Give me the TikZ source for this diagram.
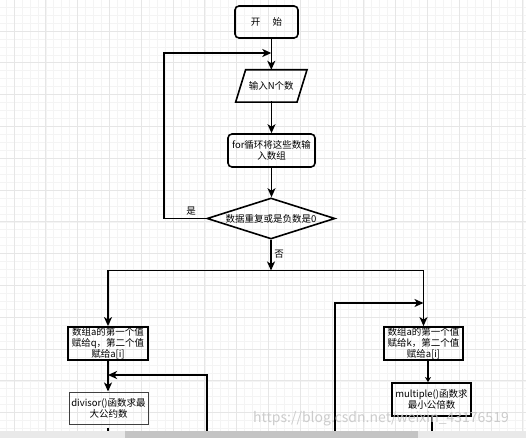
\documentclass[tikz,border=0pt]{standalone}
\usepackage{fontspec}
\setmainfont{Noto Sans CJK SC}
\usetikzlibrary{arrows.meta,shapes.geometric,calc}
\definecolor{gridminor}{HTML}{F4F4F4}
\definecolor{gridmajor}{HTML}{E6E6E6}
\definecolor{barlight}{HTML}{E9E9E9}
\definecolor{bardark}{HTML}{C4C4C4}
\tikzset{
  conn/.style={line width=1.6pt,black},
  arr/.style={conn,-{Stealth[length=9pt,width=8pt,inset=2.5pt]}},
  txt/.style={font=\fontsize{9.5}{11}\selectfont,align=center,inner sep=0pt},
  roundbox/.style={txt,draw,line width=1.6pt,rounded corners=4pt},
  sqbox/.style={txt,draw,line width=1.8pt},
  thinbox/.style={txt,draw=black!75,line width=1pt},
  lbl/.style={font=\fontsize{9.5}{11}\selectfont,inner sep=1pt},
}
\begin{document}
\begin{tikzpicture}[x=1pt,y=-1pt]
\useasboundingbox (0,0) rectangle (526,438);
% grid background
\fill[white] (0,0) rectangle (526,438);
\foreach \i in {0,...,68} { \draw[gridminor,line width=0.6pt] ({14+(\i-2)*7.95},0) -- ({14+(\i-2)*7.95},438); }
\foreach \j in {0,...,56} { \draw[gridminor,line width=0.6pt] (0,{31+(\j-4)*7.95}) -- (526,{31+(\j-4)*7.95}); }
\foreach \i in {0,...,16} { \draw[gridmajor,line width=0.8pt] ({14+\i*31.8},0) -- ({14+\i*31.8},438); }
\foreach \j in {-1,...,13} { \draw[gridmajor,line width=0.8pt] (0,{31+\j*31.8}) -- (526,{31+\j*31.8}); }

% nodes
\node[roundbox,minimum width=63,minimum height=32] (start) at (266.5,22) {开\hspace{1.3em}始};
\node[txt,minimum width=61,minimum height=32] (in) at (271.3,86) {输入N个数};
\draw[line width=1.6pt] ($(in.north west)+(5,0)$) -- ($(in.north east)+(5,0)$) -- ($(in.south east)+(-5,0)$) -- ($(in.south west)+(-5,0)$) -- cycle;
\node[roundbox,minimum width=87,minimum height=33] (for) at (271.5,150.5) {for循环将这些数输\\入数组};
\node[txt,draw,line width=1.6pt,shape=diamond,aspect=3.12,minimum width=128,minimum height=41,inner sep=0pt] (dia) at (271,218.5) {数据重复或是负数是0};
\coordinate (jn) at (271,270.5);
\node[sqbox,minimum width=80,minimum height=33] (b1) at (108,343.5) {数组a的第一个值\\赋给q，第二个值\\赋给a[i]};
\node[thinbox,minimum width=79,minimum height=32] (b2) at (108.5,408) {divisor()函数求最\\大公约数};
\node[sqbox,minimum width=79,minimum height=33] (b3) at (423.5,343.5) {数组a的第一个值\\赋给k，第二个值\\赋给a[i]};
\node[sqbox,minimum width=79,minimum height=33] (b4) at (431.5,399.5) {multiple()函数求\\最小公倍数};

% free-end coordinates
\coordinate (loopA) at (164,53);
\coordinate (loopL) at (207,431);
\coordinate (loopLt) at (207,375);
\coordinate (loopR) at (335,431);
\coordinate (loopRt) at (335,303);
\coordinate (b2end) at (108,431);
\coordinate (b4end) at (432,431);

% connectors
\draw[arr] (start.south -| in.north) -- (in.north);
\draw[arr] (dia.west) -- (dia.west -| loopA) -- (loopA) -- (loopA -| in.north);
\node[lbl] at (191,211) {是};
\draw[arr] (in.south) -- (for.south |- in.south) -- (for.north);
\draw[arr] (for.south) -- (for.south |- dia.north);
\draw[arr] (dia.south) -- (jn);
\node[lbl] at (279,254) {否};
\draw[arr] (jn) -- (jn -| b1.north) -- (b1.north);
\draw[arr] (jn) -- (jn -| b3.north) -- (b3.north);
\draw[arr] (b1.south) -- (b2.north -| b1.south);
\draw[arr] (loopL) -- (loopLt) -- (loopLt -| b1.south);
\draw[arr] (loopR) -- (loopRt) -- (loopRt -| b3.north);
\draw[conn,-{Stealth[length=5pt,width=6pt,inset=1.5pt]}] ($(b3.south)+(4.5,0)$) coordinate (t3) -- (t3 |- b4.north);
\draw[conn] ($(b2.south)+(-0.5,3)$) -- (b2end);
\draw[conn] (b4.south -| b4end) -- (b4end);

% watermark
\node[font=\fontsize{14}{14}\selectfont,text=black!22,opacity=0.9,inner sep=0pt] (wm) at (381,419) {https://blog.csdn.net/weixin\_43176519};

% bottom scroll bar
\fill[barlight] (0,431) rectangle (526,438);
\fill[bardark] (125,431) rectangle (418,438);
\end{tikzpicture}
\end{document}
